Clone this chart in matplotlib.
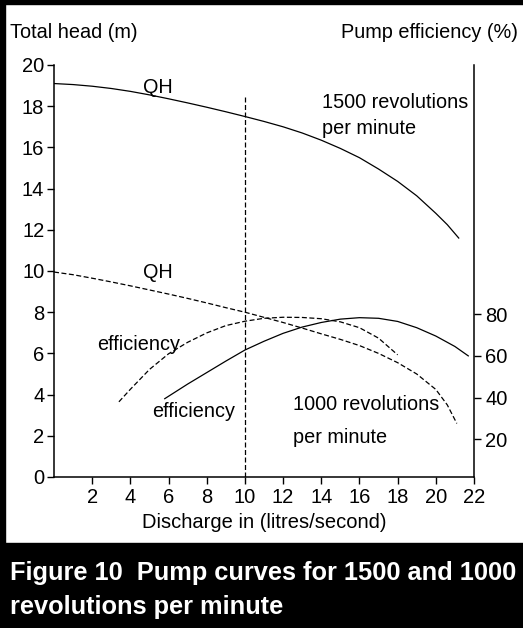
import matplotlib
matplotlib.use("Agg")
import matplotlib.pyplot as plt
from matplotlib.patches import Rectangle

plt.rcParams['font.family'] = ['Liberation Sans', 'DejaVu Sans']

# 1500 rpm QH curve (head in m)
qh1500_x = [0, 1, 2, 3, 4, 5, 6, 7, 8, 9, 10, 11, 12, 13, 14, 15, 16, 17, 18, 19, 20, 20.6, 21.2]
qh1500_y = [19.1, 19.05, 18.97, 18.86, 18.72, 18.55, 18.36, 18.16, 17.95, 17.73, 17.5, 17.26, 17.0,
            16.7, 16.35, 15.95, 15.5, 14.95, 14.35, 13.65, 12.8, 12.25, 11.6]

# 1000 rpm QH curve (dashed)
qh1000_x = [0, 1, 2, 3, 4, 5, 6, 7, 8, 9, 10, 11, 12, 13, 14, 15, 16, 17, 18, 19, 20, 20.6, 21.1]
qh1000_y = [9.95, 9.82, 9.65, 9.47, 9.28, 9.08, 8.88, 8.67, 8.45, 8.22, 8.0, 7.75, 7.5, 7.23,
            6.95, 6.68, 6.38, 6.0, 5.55, 5.0, 4.25, 3.5, 2.6]

# efficiency curves (%)
eff1000_x = [3.4, 4, 5, 6, 7, 8, 9, 10, 11, 12, 13, 14, 15, 16, 17, 18]
eff1000_y = [38, 44, 53.5, 61, 66.5, 71, 74.5, 76.6, 78, 78.5, 78.4, 77.8, 76.3, 73.5, 68.5, 60.5]
eff1500_x = [5.8, 7, 8, 9, 10, 11, 12, 13, 14, 15, 16, 17, 18, 19, 20, 21, 21.7]
eff1500_y = [39.5, 46.5, 52, 57.5, 62.8, 67, 70.8, 73.8, 76, 77.6, 78.3, 78, 76.5, 73.5, 69.5, 64.5, 60]

xticks = [2, 4, 6, 8, 10, 12, 14, 16, 18, 20, 22]
yticks = [0, 2, 4, 6, 8, 10, 12, 14, 16, 18, 20]
eff_ticks = [20, 40, 60, 80]

fig = plt.figure(figsize=(5.23, 6.28), dpi=100)
ax = fig.add_axes([54/523, 1 - 477/628, 420/523, 412/628])
ax2 = ax.twinx()

lw = 0.9
ax.plot(qh1500_x, qh1500_y, color='black', lw=lw)
ax.plot(qh1000_x, qh1000_y, color='black', lw=lw, dashes=(4, 2))
ax.plot([10, 10], [0, 18.55], color='black', lw=lw, dashes=(4, 2))
ax2.plot(eff1500_x, eff1500_y, color='black', lw=lw)
ax2.plot(eff1000_x, eff1000_y, color='black', lw=lw, dashes=(4, 2))

ax.set_xlim(0, 22)
ax.set_ylim(0, 20)
ax2.set_ylim(2, 199.3)
ax.set_xticks(xticks)
ax.set_yticks(yticks)
ax2.set_yticks(eff_ticks)

for a in (ax, ax2):
    a.spines['top'].set_visible(False)
    a.tick_params(length=5, width=1, labelsize=14.5, pad=2)
ax.spines['right'].set_visible(False)
ax2.spines['left'].set_visible(False)
ax2.spines['bottom'].set_visible(False)
ax.spines['left'].set_linewidth(1.1)
ax.spines['bottom'].set_linewidth(1.1)
ax2.spines['right'].set_linewidth(1.1)
ax.tick_params(axis='x', pad=3)
ax2.tick_params(axis='y', pad=3)

ax.set_xlabel('Discharge in (litres/second)', fontsize=14.5, labelpad=4)

fs = 14.3
fig.text(10/523, 1 - 33/628, 'Total head (m)', fontsize=fs, va='center', ha='left')
fig.text(518/523, 1 - 33/628, 'Pump efficiency (%)', fontsize=fs, va='center', ha='right')
ax.text(5.45, 18.93, 'QH', fontsize=fs, va='center', ha='center')
ax.text(5.45, 9.95, 'QH', fontsize=fs, va='center', ha='center')
ax.text(14.05, 18.16, '1500 revolutions', fontsize=fs, va='center', ha='left')
ax.text(14.05, 16.94, 'per minute', fontsize=fs, va='center', ha='left')
ax.text(2.25, 6.41, 'efficiency', fontsize=fs, va='center', ha='left')
ax.text(5.13, 3.2, 'efficiency', fontsize=fs, va='center', ha='left')
ax.text(12.5, 3.5, '1000 revolutions', fontsize=fs, va='center', ha='left')
ax.text(12.5, 1.94, 'per minute', fontsize=fs, va='center', ha='left')

# frame and caption band
fig.patches.append(Rectangle((0, 0), 5/523, 1, transform=fig.transFigure, color='black', zorder=0))
fig.patches.append(Rectangle((0, 1 - 4/628), 1, 4/628, transform=fig.transFigure, color='black', zorder=0))
fig.patches.append(Rectangle((0, 0), 1, 85/628, transform=fig.transFigure, color='black', zorder=0))
fig.text(10/523, 1 - 573/628, 'Figure 10  Pump curves for 1500 and 1000', fontsize=18.3,
         fontweight='bold', color='white', va='center', ha='left')
fig.text(10/523, 1 - 607/628, 'revolutions per minute', fontsize=18.3,
         fontweight='bold', color='white', va='center', ha='left')

fig.savefig('out.png', dpi=100)
